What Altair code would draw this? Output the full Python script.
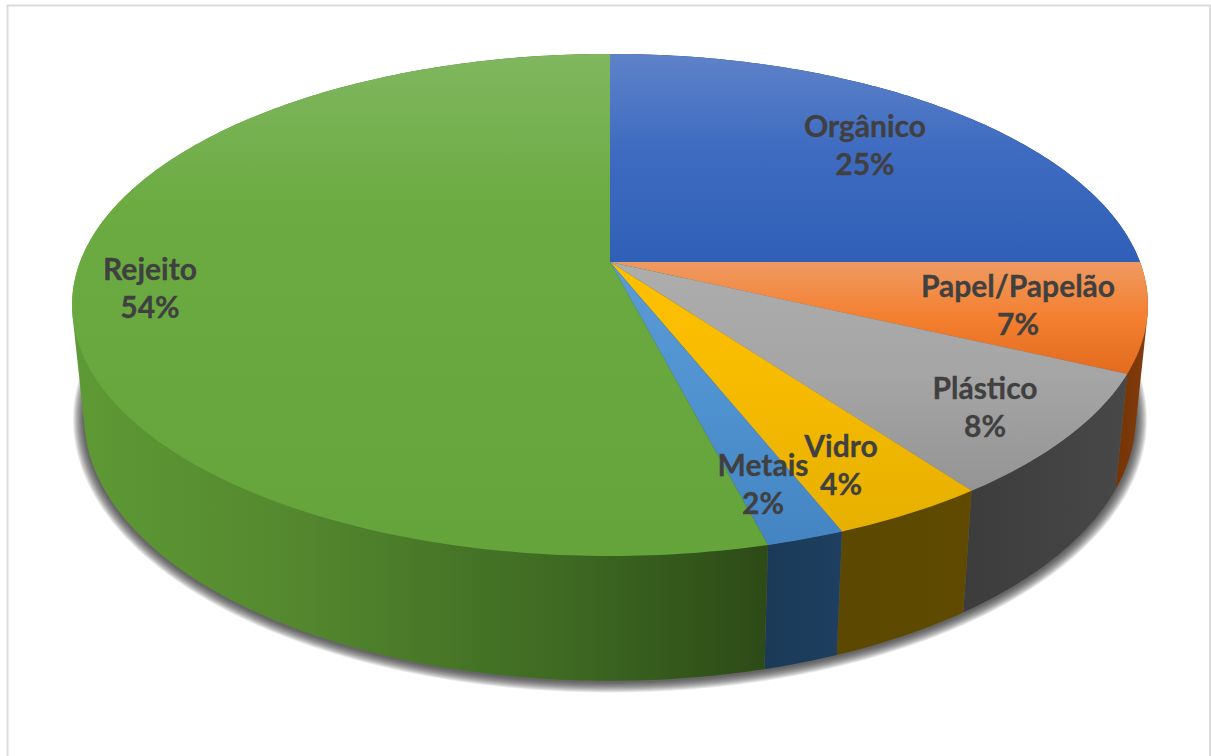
import math
import altair as alt

# Waste composition, in percent, clockwise from twelve o'clock
names = ["Orgânico", "Papel/Papelão", "Plástico", "Vidro", "Metais", "Rejeito"]
percents = [25, 7, 8, 4, 2, 54]
label_x = [865, 1018, 985, 841, 763, 150]
label_y = [128, 288, 390, 448, 467, 271]

top_stops = [
    [("#5e82c9", 0), ("#3f6cc1", 0.45), ("#2f5fb7", 1)],
    [("#ef9a62", 0), ("#f47f2f", 0.5), ("#e26b1f", 1)],
    [("#adadad", 0), ("#a5a5a5", 0.5), ("#949494", 1)],
    [("#ffc000", 0), ("#f5ba00", 0.5), ("#e6b000", 1)],
    [("#5b9bd5", 0), ("#4f92d0", 0.5), ("#4484c2", 1)],
    [("#80b75f", 0), ("#6cab42", 0.3), ("#65a43a", 1)],
]
wall_stops = [
    [("#1f3864", 0), ("#1f3864", 1)],
    [("#733407", 0), ("#843c0c", 1)],
    [("#3c3c3c", 0), ("#484848", 1)],
    [("#5c4800", 0), ("#5f4a00", 1)],
    [("#1b3a58", 0), ("#1e3f60", 1)],
    [("#5e9a35", 0), ("#55892f", 0.3), ("#3e6a22", 0.7), ("#2d4a17", 1)],
]

# Perspective tilt of the disc and its two rims (pixels)
CX, TILT = 610, 0.171
TOP = dict(a=530, y0=262, b=243.7)
BOTTOM = dict(a=518, y0=372, b=256)
TEXT_COLOR = "#404040"
FONT = "Lato"


def rim(frac, a, y0, b):
    """Project a point of the unit circle, at this fraction of a turn, to the page."""
    t = 2 * math.pi * frac
    u, v = math.sin(t), math.cos(t)
    w = 1 + TILT * v
    return [CX + a * u / w, y0 - b * v / w]


def arc(start, end, rim_args):
    steps = max(2, int((end - start) * 400))
    return [rim(start + (end - start) * i / steps, **rim_args) for i in range(steps + 1)]


def hull(points):
    pts = sorted(map(tuple, points))

    def half(seq):
        out = []
        for p in seq:
            while len(out) > 1 and (
                (out[-1][0] - out[-2][0]) * (p[1] - out[-2][1])
                - (out[-1][1] - out[-2][1]) * (p[0] - out[-2][0])
            ) <= 0:
                out.pop()
            out.append(p)
        return out[:-1]

    return [list(p) for p in half(pts) + half(pts[::-1])]


def polygon(points, name):
    ring = list(points) + [points[0]]
    return {
        "type": "Feature",
        "properties": {"name": name},
        "geometry": {"type": "Polygon", "coordinates": [ring]},
    }


def gradient(stops, horizontal):
    return alt.Gradient(
        gradient="linear",
        x1=0, y1=0,
        x2=1 if horizontal else 0,
        y2=0 if horizontal else 1,
        stops=[alt.GradientStop(color=c, offset=o) for c, o in stops],
    )


projection = alt.Projection(type="identity", scale=1, translate=[0, 0])


def shape(feature, **mark):
    return alt.Chart(alt.Data(values=[feature])).mark_geoshape(**mark).project(**projection.to_dict())


layers = []

# Page frame
frame = [
    dict(x=alt.value(7.5), y=alt.value(5), y2=alt.value(756)),
    dict(x=alt.value(1210), y=alt.value(5), y2=alt.value(756)),
    dict(x=alt.value(7), x2=alt.value(1211), y=alt.value(5.5)),
]
for enc in frame:
    layers.append(alt.Chart(alt.Data(values=[{"a": 0}])).mark_rule(color="#dcdcdc", strokeWidth=2).encode(**enc))

# Soft shadow: growing copies of the lower rim, each very faint
for grow in range(1, 12):
    args = dict(a=BOTTOM["a"] + grow, y0=BOTTOM["y0"] + 1, b=BOTTOM["b"] + grow * 0.8)
    layers.append(
        shape(polygon(arc(0, 1, args), "shadow"), fill="#2a2a2a", fillOpacity=0.1, strokeWidth=0)
    )

# Slice boundaries as fractions of a turn
edges = [0]
for p in percents:
    edges.append(edges[-1] + p / 100)

# Side walls
for name, start, end, stops in zip(names, edges, edges[1:], wall_stops):
    band = hull(arc(start, end, TOP) + arc(start, end, BOTTOM))
    layers.append(shape(polygon(band, name), fill=gradient(stops, True), strokeWidth=0))

# Top faces
apex = [CX, TOP["y0"]]
for name, start, end, stops in zip(names, edges, edges[1:], top_stops):
    face = [apex] + arc(start, end, TOP)
    layers.append(shape(polygon(face, name), fill=gradient(stops, False), strokeWidth=0))

# Two-line labels: category, then share
label_rows = [
    {"text": f"{n}\n{p}%", "lon": x, "lat": y}
    for n, p, x, y in zip(names, percents, label_x, label_y)
]
layers.append(
    alt.Chart(alt.Data(values=label_rows))
    .mark_text(
        font=FONT, fontSize=30, fontWeight="bold", color=TEXT_COLOR,
        stroke=TEXT_COLOR, strokeWidth=0.3,
        align="center", baseline="middle", lineBreak="\n", lineHeight=38,
    )
    .encode(longitude="lon:Q", latitude="lat:Q", text="text:N")
    .project(**projection.to_dict())
)

chart = (
    alt.layer(*layers)
    .properties(width=1211, height=756, padding=0, background="white",
                autosize=alt.AutoSizeParams(type="none"))
    .configure_view(stroke=None)
)
chart.save("out.html", embed_options={"renderer": "svg", "actions": False})
